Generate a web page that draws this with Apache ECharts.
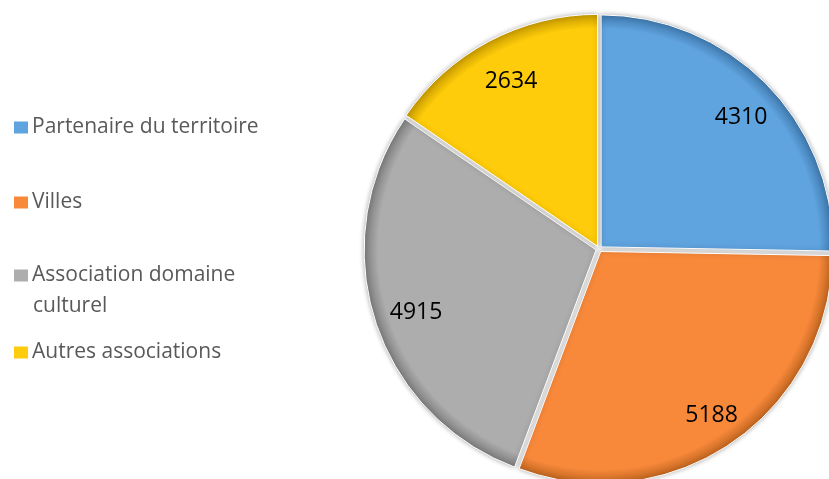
<!DOCTYPE html>
<html><head><meta charset="utf-8">
<script src="https://cdn.jsdelivr.net/npm/echarts@6/dist/echarts.min.js"></script>
<style>html,body{margin:0;padding:0;background:#fff}#c{width:829px;height:479px}</style>
</head><body><div id="c"></div>
<script>
const categories = ['Partenaire du territoire', 'Villes', 'Association domaine culturel', 'Autres associations'];
const values = [4310, 5188, 4915, 2634];
const colors = ['#5FA3DF', '#F8893B', '#ADADAD', '#FECC0A'];
const darkColors = ['#3F78AC', '#C0651F', '#7D7D7D', '#C79A00'];
const legendTops = [117, 192, 265, 342];

const CX = 599, CY = 249, R = 232;
const chart = echarts.init(document.getElementById('c'));
const data = categories.map((n, i) => ({
  name: n, value: values[i], selected: true,
  itemStyle: { color: { type: 'radial', x: CX, y: CY, r: R, global: true,
    colorStops: [{ offset: 0, color: colors[i] }, { offset: 0.94, color: colors[i] }, { offset: 1, color: darkColors[i] }] } }
}));
const legends = categories.map((n, i) => ({
  data: [{ name: n, itemStyle: { color: colors[i] } }], orient: 'vertical', left: 12, top: legendTops[i], icon: 'rect',
  itemWidth: 16, itemHeight: 14, itemGap: 4, selectedMode: false, padding: 0,
  formatter: name => name === 'Association domaine culturel' ? 'Association domaine' : name,
  textStyle: { fontFamily: 'Open Sans', fontSize: 21, color: '#595959', padding: [0, 0, 0, -2] }
}));
chart.setOption({
  animation: false,
  legend: legends,
  graphic: [{ type: 'text', left: 33, top: 296, style: { text: 'culturel', fontFamily: 'Open Sans', fontSize: 21, fill: '#595959' } }],
  series: [{
    type: 'pie', center: [CX, CY], radius: R, startAngle: 90, clockwise: true,
    selectedMode: 'multiple', selectedOffset: 3,
    data: data, label: { show: false }, labelLine: { show: false },
    itemStyle: { borderColor: '#fff', borderWidth: 1, shadowBlur: 5, shadowColor: 'rgba(0,0,0,0.3)' },
    silent: true
  }, {
    type: 'pie', center: [CX + 3, CY + 5], radius: [152, R], startAngle: 90, clockwise: true,
    minShowLabelAngle: 0, avoidLabelOverlap: false, z: 5,
    data: categories.map((n, i) => ({ name: n, value: values[i] })),
    itemStyle: { color: 'rgba(0,0,0,0)' },
    label: { show: true, position: 'inside', formatter: '{c}', fontFamily: 'Open Sans', fontSize: 23, color: '#000', overflow: 'none', width: 100 },
    labelLine: { show: false }, silent: true, legendHoverLink: false
  }]
});
</script></body></html>
